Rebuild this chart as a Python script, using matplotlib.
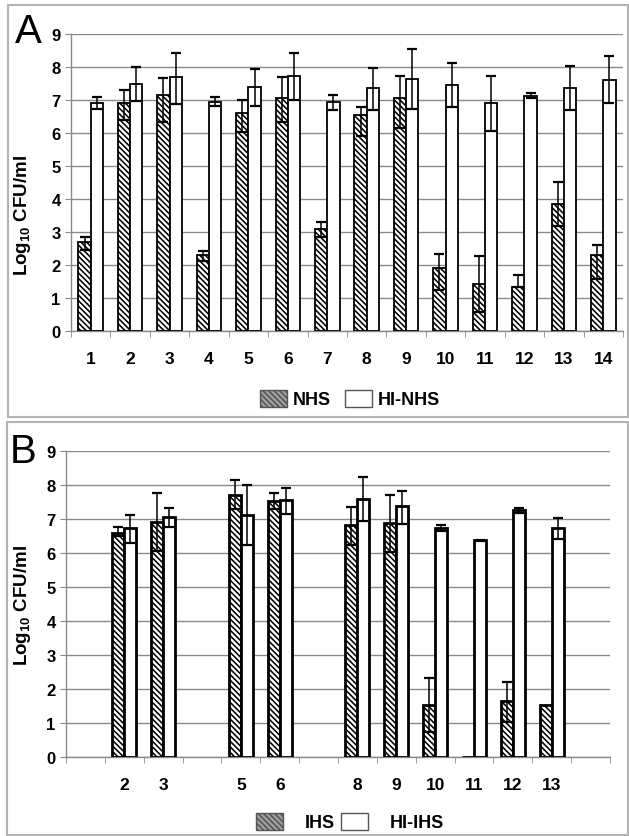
import numpy as np
import matplotlib
matplotlib.use('Agg')
import matplotlib.pyplot as plt
from matplotlib.patches import Patch, Rectangle

plt.rcParams['font.family'] = ['Liberation Sans', 'DejaVu Sans']
plt.rcParams['mathtext.fontset'] = 'custom'
plt.rcParams['mathtext.bf'] = 'Liberation Sans:bold'
plt.rcParams['mathtext.rm'] = 'Liberation Sans'
plt.rcParams['hatch.linewidth'] = 1.15

# panel A data (bar top, error bar top, error bar bottom)
cats_a = [1, 2, 3, 4, 5, 6, 7, 8, 9, 10, 11, 12, 13, 14]
nhs = [2.71, 6.89, 7.14, 2.31, 6.59, 7.05, 3.09, 6.54, 7.05, 1.91, 1.42, 1.33, 3.84, 2.32]
nhs_hi = [2.86, 7.30, 7.66, 2.44, 7.01, 7.70, 3.30, 6.77, 7.71, 2.34, 2.28, 1.71, 4.51, 2.62]
nhs_lo = [2.46, 6.39, 6.34, 2.13, 6.02, 6.34, 2.84, 5.91, 6.14, 1.26, 0.59, 1.33, 3.18, 1.58]
hinhs = [6.89, 7.48, 7.68, 6.92, 7.40, 7.71, 6.92, 7.36, 7.63, 7.44, 6.89, 7.11, 7.36, 7.59]
hinhs_hi = [7.08, 7.98, 8.42, 7.09, 7.94, 8.42, 7.15, 7.95, 8.53, 8.11, 7.71, 7.20, 8.03, 8.33]
hinhs_lo = [6.72, 6.96, 6.87, 6.80, 6.82, 7.00, 6.70, 6.70, 6.72, 6.77, 6.07, 7.05, 6.70, 6.89]

# panel B data, slots 1,4,7,14 are empty
cats_b = [2, 3, 5, 6, 8, 9, 10, 11, 12, 13]
ihs = [6.59, 6.91, 7.72, 7.53, 6.84, 6.88, 1.55, 0.0, 1.66, 1.55]
ihs_hi = [6.76, 7.76, 8.16, 7.76, 7.36, 7.71, 2.33, 0.0, 2.22, 1.55]
ihs_lo = [6.50, 6.08, 7.30, 7.30, 6.24, 6.03, 0.74, 0.0, 1.03, 1.55]
hiihs = [6.74, 7.08, 7.14, 7.57, 7.60, 7.38, 6.74, 6.38, 7.26, 6.74]
hiihs_hi = [7.14, 7.32, 8.02, 7.93, 8.24, 7.83, 6.82, 6.40, 7.32, 7.03]
hiihs_lo = [6.29, 6.76, 6.24, 7.16, 6.96, 6.86, 6.66, 6.36, 7.20, 6.42]

HATCH = '\\\\\\\\\\\\'
W = 0.31
GRIDC = '#8a8a8a'


def errs(x, v, hi, lo, ax):
    x = np.asarray(x, float); v = np.asarray(v); hi = np.asarray(hi); lo = np.asarray(lo)
    keep = (hi - lo) > 0   # no bar where there is no spread
    ax.errorbar(x[keep], v[keep], yerr=[v[keep] - lo[keep], hi[keep] - v[keep]],
                fmt='none', ecolor='black', elinewidth=1.1, capsize=3.3, capthick=1.6, zorder=4)


def panel(ax, cats, s1, s1hi, s1lo, s2, s2hi, s2lo, lw, nslots=14):
    x = np.asarray(cats, float)
    ax.bar(x - W / 2, s1, W, facecolor='white', edgecolor='black', hatch=HATCH, lw=lw, zorder=3)
    ax.bar(x + W / 2, s2, W, facecolor='white', edgecolor='black', lw=lw, zorder=3)
    errs(x - W / 2, s1, s1hi, s1lo, ax)
    errs(x + W / 2, s2, s2hi, s2lo, ax)
    ax.set_xlim(0.5, nslots + 0.5)
    ax.set_ylim(0, 9)
    ax.set_yticks(range(10))
    ax.set_xticks(cats)
    ax.set_xticklabels([str(c) for c in cats], fontsize=12.5, fontweight='bold')
    ax.set_xticks(np.arange(0.5, nslots + 1), minor=True)
    ax.tick_params(axis='x', which='major', length=0, pad=14)
    ax.tick_params(axis='x', which='minor', length=4, color=GRIDC, direction='out')
    ax.tick_params(axis='y', length=4, color=GRIDC, labelsize=12)
    for t in ax.get_yticklabels():
        t.set_fontweight('bold')
    ax.grid(axis='y', color=GRIDC, lw=1.0, zorder=0)
    ax.set_axisbelow(True)
    for s in ['top', 'right']:
        ax.spines[s].set_visible(False)
    for s in ['left', 'bottom']:
        ax.spines[s].set_color(GRIDC)
        ax.spines[s].set_linewidth(1.0)
    ax.set_ylabel(r'Log$_{\mathbf{10}}$ CFU/ml', fontsize=13.5, fontweight='bold')


fig = plt.figure(figsize=(6.29, 8.37), dpi=100)
H = 837.0
Wd = 629.0

# panel frames
fig.add_artist(Rectangle((8 / Wd, 1 - 418 / H), 620 / Wd, 412 / H, transform=fig.transFigure,
                         fill=False, edgecolor='#b4b4b4', lw=1.5))
fig.add_artist(Rectangle((7 / Wd, 1 - 836 / H), 621 / Wd, 413 / H, transform=fig.transFigure,
                         fill=False, edgecolor='#b4b4b4', lw=1.5))

axA = fig.add_axes([71 / Wd, 1 - 332.3 / H, 552 / Wd, 297.6 / H])
panel(axA, cats_a, nhs, nhs_hi, nhs_lo, hinhs, hinhs_hi, hinhs_lo, 1.3)
axA.yaxis.set_label_coords(-0.069, 0.394)

axB = fig.add_axes([66 / Wd, 1 - 758.3 / H, 544 / Wd, 306 / H])
panel(axB, cats_b, ihs, ihs_hi, ihs_lo, hiihs, hiihs_hi, hiihs_lo, 2.0)
axB.yaxis.set_label_coords(-0.061, 0.5)

fig.text(28 / Wd, 1 - 32 / H, 'A', fontsize=29, ha='center', va='center')
fig.text(23 / Wd, 1 - 452 / H, 'B', fontsize=29, ha='center', va='center')

sw1 = Patch(facecolor='#a0a0a0', edgecolor='#555555', hatch=HATCH, lw=1.0)
sw2 = Patch(facecolor='white', edgecolor='#555555', lw=1.0)
fig.legend([sw1, sw2], ['NHS', 'HI-NHS'], loc='center', bbox_to_anchor=(350 / Wd, 1 - 400 / H),
           ncol=2, frameon=False, prop={'weight': 'bold', 'size': 13},
           handlelength=1.5, handleheight=1.1, handletextpad=0.3, columnspacing=0.8)
fig.legend([sw1, sw2], ['IHS', 'HI-IHS'], loc='center', bbox_to_anchor=(350 / Wd, 1 - 823 / H),
           ncol=2, frameon=False, prop={'weight': 'bold', 'size': 13},
           handlelength=1.5, handleheight=1.1, handletextpad=1.2, columnspacing=0.3)

fig.savefig('out.png', dpi=100)
